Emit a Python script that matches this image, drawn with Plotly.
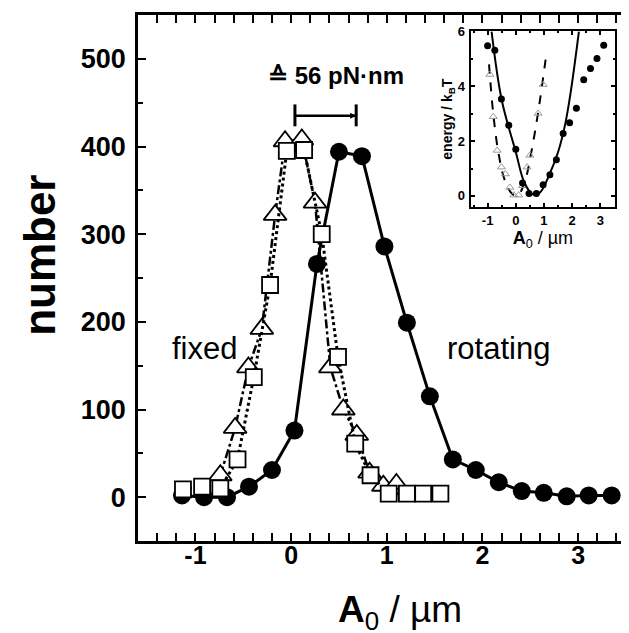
import plotly.graph_objects as go

# ---- main histogram data ----
rot_x = [-1.14, -0.91, -0.67, -0.44, -0.20, 0.035, 0.27, 0.50, 0.74, 0.975,
         1.21, 1.45, 1.69, 1.93, 2.17, 2.41, 2.64, 2.88, 3.11, 3.35]
rot_y = [2, 0, 0, 12, 31, 76, 266, 394, 389, 286,
         199, 115, 43, 31, 17, 7, 5, 1, 2, 2]

tri_x = [-0.74, -0.585, -0.446, -0.306, -0.167, -0.063, 0.112, 0.25, 0.41,
         0.546, 0.686, 0.82, 0.964, 1.10]
tri_y = [25, 79, 148, 192, 322, 406, 408, 336, 148, 100, 71, 28, 13, 15]

sq_x = [-1.13, -0.93, -0.74, -0.56, -0.39, -0.22, -0.045, 0.136, 0.32, 0.49,
        0.67, 0.83, 1.02, 1.21, 1.38, 1.56]
sq_y = [9, 12, 10, 43, 137, 242, 395, 396, 300, 160, 61, 25, 4, 4, 4, 4]

# ---- inset (energy) data ----
e_rot_x = [-1.00, -0.745, -0.51, -0.25, 0.0, 0.24, 0.47, 0.73, 0.97, 1.21,
           1.44, 1.68, 1.91, 2.15, 2.41, 2.65, 2.88, 3.12]
e_rot_y = [5.48, 5.31, 3.54, 2.58, 1.70, 0.47, 0.09, 0.09, 0.41, 0.77,
           1.32, 2.28, 2.67, 3.20, 4.24, 4.65, 5.01, 5.50]

e_tri_x = [-0.92, -0.80, -0.66, -0.51, -0.37, -0.21, -0.07, 0.10, 0.24, 0.40,
           0.50, 0.79, 0.97]
e_tri_y = [4.43, 2.89, 1.66, 1.05, 0.80, 0.31, 0.03, 0.03, 0.37, 1.05,
           1.48, 3.01, 4.06]

fit_rot_x = [-0.86, -0.5, 0.0, 0.3, 0.6, 0.85, 1.2, 1.5, 1.75, 1.95, 2.24]
fit_rot_y = [6.0, 3.5, 1.6, 0.5, 0.06, 0.12, 0.8, 1.6, 2.6, 3.8, 6.0]

fit_fix_x = [-0.95, -0.8, -0.62, -0.4, -0.15, 0.05, 0.3, 0.55, 0.8, 1.1]
fit_fix_y = [4.8, 3.0, 1.6, 0.6, 0.1, 0.0, 0.45, 1.6, 3.1, 5.3]

# ---- tick labels ----
x_ticks = [-1, 0, 1, 2, 3]
y_ticks = [0, 100, 200, 300, 400, 500]
inset_yticks = [0, 2, 4, 6]

FONT = "Liberation Sans"
fig = go.Figure()

fig.add_trace(go.Scatter(x=rot_x, y=rot_y, mode="lines+markers",
                         line=dict(color="black", width=3),
                         marker=dict(symbol="circle", size=18, color="black"),
                         showlegend=False))
fig.add_trace(go.Scatter(x=tri_x, y=tri_y, mode="lines+markers",
                         line=dict(color="black", width=2.5, dash="dashdot"),
                         marker=dict(symbol="triangle-up", size=20, color="white",
                                     line=dict(color="black", width=1.8)),
                         showlegend=False))
fig.add_trace(go.Scatter(x=sq_x, y=sq_y, mode="lines+markers",
                         line=dict(color="black", width=3, dash="dot"),
                         marker=dict(symbol="square", size=16, color="white",
                                     line=dict(color="black", width=1.8)),
                         showlegend=False))
# dummy trace for right-side ticks
fig.add_trace(go.Scatter(x=[], y=[], yaxis="y2", showlegend=False))

# inset traces
fig.add_trace(go.Scatter(x=fit_fix_x, y=fit_fix_y, xaxis="x3", yaxis="y3", mode="lines",
                         line=dict(color="black", width=2, dash="dash", shape="spline"),
                         showlegend=False))
fig.add_trace(go.Scatter(x=e_tri_x, y=e_tri_y, xaxis="x3", yaxis="y3", mode="markers",
                         marker=dict(symbol="triangle-up-open", size=7, color="#999999",
                                     line=dict(width=1)),
                         showlegend=False))
fig.add_trace(go.Scatter(x=fit_rot_x, y=fit_rot_y, xaxis="x3", yaxis="y3", mode="lines",
                         line=dict(color="black", width=2, shape="spline"),
                         showlegend=False))
fig.add_trace(go.Scatter(x=e_rot_x, y=e_rot_y, xaxis="x3", yaxis="y3", mode="markers",
                         marker=dict(symbol="circle", size=7, color="black"),
                         showlegend=False))

axis_common = dict(showgrid=False, zeroline=False, color="black")

fig.update_layout(
    width=621, height=625,
    margin=dict(l=130, r=0, t=5, b=92),
    paper_bgcolor="white", plot_bgcolor="white",
    font=dict(family=FONT, color="black"),
    xaxis=dict(**axis_common, range=[-1.6, 3.531], domain=[0, 1],
               showline=True, linewidth=2.5, linecolor="black", mirror="allticks",
               ticks="inside", ticklen=8, tickwidth=2, tickcolor="black",
               tickvals=x_ticks, ticktext=[str(v) for v in x_ticks],
               minor=dict(dtick=0.2, tick0=0, ticks="inside", ticklen=4, tickwidth=2,
                          tickcolor="black"),
               tickfont=dict(size=25, family=FONT, weight="bold"),
               ticklabelstandoff=-10),
    yaxis=dict(**axis_common, range=[-50, 550], domain=[0, 1],
               showline=True, linewidth=2.5, linecolor="black",
               ticks="inside", ticklen=8, tickwidth=2, tickcolor="black",
               tickvals=y_ticks, ticktext=[str(v) for v in y_ticks],
               minor=dict(dtick=50, tick0=0, ticks="inside", ticklen=5, tickwidth=2,
                          tickcolor="black"),
               tickfont=dict(size=27, family=FONT, weight="bold"),
               ticklabelstandoff=4),
    yaxis2=dict(**axis_common, range=[-50, 550], overlaying="y", side="right",
                showline=False, showticklabels=False, ticks="inside", ticklen=3,
                tickwidth=2, tickcolor="black", tickvals=y_ticks),
    xaxis3=dict(**axis_common, range=[-1.6, 3.52], domain=[0.6776, 0.9715], anchor="y3",
                showline=True, linewidth=2, linecolor="black", mirror="allticks",
                ticks="inside", ticklen=4, tickwidth=1.5, tickcolor="black",
                tickvals=x_ticks, ticktext=[str(v) for v in x_ticks],
                minor=dict(dtick=0.5, tick0=0, ticks="inside", ticklen=2, tickwidth=1.5,
                           tickcolor="black"),
                tickfont=dict(size=13, family=FONT, weight="bold"),
                ticklabelstandoff=1,
                title=dict(text="<b>A</b><sub>0</sub> / µm", standoff=2,
                           font=dict(size=18, family=FONT))),
    yaxis3=dict(**axis_common, range=[-0.4, 6], domain=[0.6352, 0.9687], anchor="x3",
                showline=True, linewidth=2, linecolor="black", mirror="allticks",
                ticks="inside", ticklen=4, tickwidth=1.5, tickcolor="black",
                tickvals=inset_yticks, ticktext=[str(v) for v in inset_yticks],
                minor=dict(dtick=1, tick0=0, ticks="inside", ticklen=2, tickwidth=1.5,
                           tickcolor="black"),
                tickfont=dict(size=13, family=FONT, weight="bold"),
                ticklabelstandoff=1,
                title=dict(text="<b>energy / k<sub>B</sub>T</b>", standoff=2,
                           font=dict(size=14, family=FONT))),
)

# axis titles as annotations
fig.add_annotation(x=-0.1996, y=0.544, xref="paper", yref="paper", showarrow=False,
                   text="<b>number</b>", textangle=-90, xanchor="center", yanchor="middle",
                   font=dict(size=44, family=FONT))
fig.add_annotation(x=0.534, y=-0.135, xref="paper", yref="paper", showarrow=False,
                   text="<b>A</b><sub>0</sub> / µm", xanchor="center", yanchor="middle",
                   font=dict(size=37, family=FONT))

# text annotations
fig.add_annotation(x=0.47, y=481, xref="x", yref="y", showarrow=False,
                   text="<b>≙ 56 pN·nm</b>", font=dict(size=24, family=FONT))
fig.add_annotation(x=-0.90, y=170, xref="x", yref="y", showarrow=False,
                   text="fixed", font=dict(size=31, family=FONT))
fig.add_annotation(x=2.17, y=170, xref="x", yref="y", showarrow=False,
                   text="rotating", font=dict(size=31, family=FONT))

# torque difference bar
bar_x0, bar_x1, bar_y = 0.04, 0.68, 435
fig.add_shape(type="line", x0=bar_x0, x1=bar_x1, y0=bar_y, y1=bar_y, xref="x", yref="y",
              line=dict(color="black", width=2.5))
for bx in (bar_x0, bar_x1):
    fig.add_shape(type="line", x0=bx, x1=bx, y0=bar_y - 12, y1=bar_y + 13,
                  xref="x", yref="y", line=dict(color="black", width=3))
fig.add_annotation(x=bar_x1, y=bar_y, ax=bar_x1 - 0.12, ay=bar_y, xref="x", yref="y",
                   axref="x", ayref="y", text="", showarrow=True, arrowhead=2,
                   arrowsize=0.8, arrowwidth=1.5, arrowcolor="black")

fig.write_html("out.html")
